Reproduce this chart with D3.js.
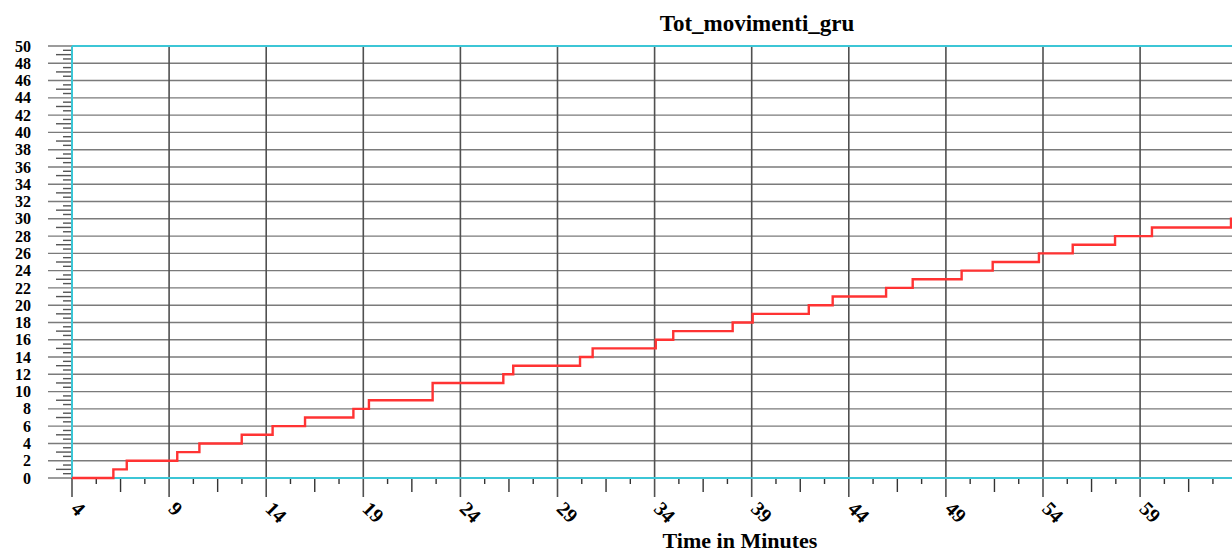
<!DOCTYPE html>
<html><head><meta charset="utf-8">
<script src="https://cdn.jsdelivr.net/npm/d3@7"></script>
<style>body{margin:0;background:#fff;overflow:hidden}svg{display:block}</style>
</head><body>
<script>
const title = "Tot_movimenti_gru";
const xTitle = "Time in Minutes";
const stepTimes = [4, 6.13, 6.82, 9.42, 10.56, 12.74, 14.33, 16.0, 18.49, 19.29, 22.57, 26.21, 26.72, 30.16, 30.81, 34.06, 34.96, 38.02, 39.05, 41.94, 43.17, 45.92, 47.29, 49.81, 51.41, 53.79, 55.53, 57.71, 59.61, 63.68];
const stepValues = [0, 1, 2, 3, 4, 5, 6, 7, 8, 9, 11, 12, 13, 14, 15, 16, 17, 18, 19, 20, 21, 22, 23, 24, 25, 26, 27, 28, 29, 30];
const xTickLabels = [4, 9, 14, 19, 24, 29, 34, 39, 44, 49, 54, 59];
const yTickLabels = [0, 2, 4, 6, 8, 10, 12, 14, 16, 18, 20, 22, 24, 26, 28, 30, 32, 34, 36, 38, 40, 42, 44, 46, 48, 50];

const W = 1232, H = 554;
const L = 72, T = 46, B = 478;
const x = d3.scaleLinear().domain([4, 64]).range([L, L + 60 * 19.42]);
const y = d3.scaleLinear().domain([0, 50]).range([B, T]);
const svg = d3.select("body").append("svg").attr("width", W).attr("height", H);
const serif = "'Liberation Serif','DejaVu Serif',serif";

// title
svg.append("text").attr("x", 757).attr("y", 31).attr("text-anchor", "middle")
  .attr("font-family", serif).attr("font-weight", "bold").attr("font-size", 23).text(title);

// horizontal gridlines + y major ticks
const g = svg.append("g");
g.selectAll("line.hg").data(yTickLabels).join("line")
  .attr("x1", 48).attr("x2", W).attr("y1", d => y(d)).attr("y2", d => y(d))
  .attr("stroke", "#7a7a7a").attr("stroke-width", 1.4);
// y minor ticks every 0.5
const yMinor = d3.range(0, 50, 0.5).filter(v => v % 2 !== 0);
g.selectAll("line.ym").data(yMinor).join("line")
  .attr("x1", d => (d % 1 === 0 ? 56 : 63)).attr("x2", L)
  .attr("y1", d => y(d)).attr("y2", d => y(d))
  .attr("stroke", "#555").attr("stroke-width", 1.4);
// y labels
g.selectAll("text.yl").data(yTickLabels).join("text")
  .attr("x", 31).attr("y", d => y(d)).attr("dy", "0.35em").attr("text-anchor", "end")
  .attr("font-family", serif).attr("font-weight", "bold").attr("font-size", 16).text(d => d);

// vertical gridlines + x major ticks
g.selectAll("line.vg").data(xTickLabels).join("line")
  .attr("x1", d => x(d)).attr("x2", d => x(d)).attr("y1", T).attr("y2", 497)
  .attr("stroke", "#505050").attr("stroke-width", 1.6);
// x minor ticks
const xMinor = [];
for (let m = 4; m < 64; m += 5) { xMinor.push({v: m + 1.25, len: 6}, {v: m + 2.5, len: 14}, {v: m + 3.75, len: 6}); }
g.selectAll("line.xm").data(xMinor.filter(d => d.v < 64)).join("line")
  .attr("x1", d => x(d.v)).attr("x2", d => x(d.v)).attr("y1", B).attr("y2", d => B + d.len)
  .attr("stroke", "#333").attr("stroke-width", 1.4);
// x labels rotated
g.selectAll("text.xl").data(xTickLabels).join("text")
  .attr("transform", d => `translate(${x(d) + 3},${505}) rotate(45)`)
  .attr("font-family", serif).attr("font-weight", "bold").attr("font-size", 20)
  .attr("dy", "0.35em").text(d => d);

// axis title
svg.append("text").attr("x", 740).attr("y", 548).attr("text-anchor", "middle")
  .attr("font-family", serif).attr("font-weight", "bold").attr("font-size", 22).text(xTitle);

// cyan frame
const cyan = "#3cc6d6";
svg.append("line").attr("x1", L).attr("x2", W).attr("y1", T).attr("y2", T).attr("stroke", cyan).attr("stroke-width", 2);
svg.append("line").attr("x1", L).attr("x2", W).attr("y1", B).attr("y2", B).attr("stroke", cyan).attr("stroke-width", 2);
svg.append("line").attr("x1", L).attr("x2", L).attr("y1", T).attr("y2", B).attr("stroke", cyan).attr("stroke-width", 2);

// step line
const data = stepTimes.map((t, i) => [t, stepValues[i]]);
data.push([64, stepValues[stepValues.length - 1]]);
const line = d3.line().x(d => x(d[0])).y(d => y(d[1])).curve(d3.curveStepAfter);
svg.append("path").datum(data).attr("d", line).attr("fill", "none")
  .attr("stroke", "#ff3333").attr("stroke-width", 2.4);
</script>
</body></html>
